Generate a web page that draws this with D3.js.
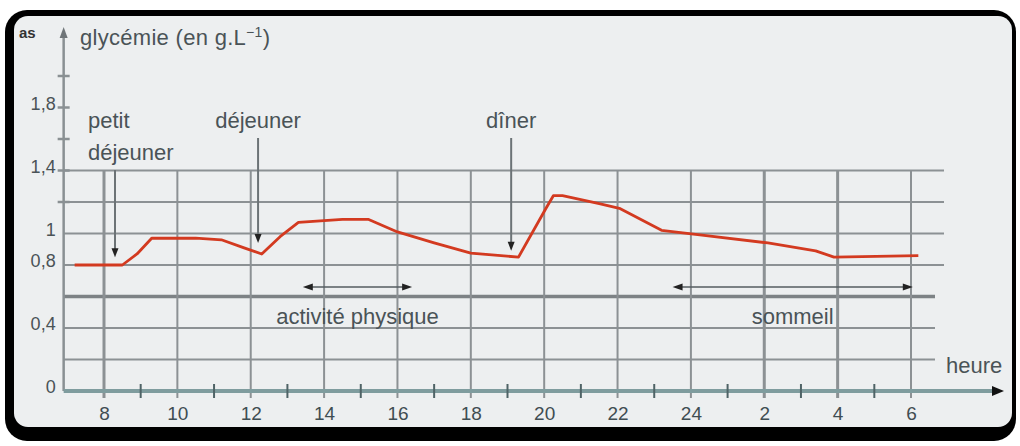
<!DOCTYPE html>
<html>
<head>
<meta charset="utf-8">
<script src="https://cdn.jsdelivr.net/npm/d3@7"></script>
<style>
  body { margin: 0; background: #fff; }
  svg text { font-family: "Liberation Sans", Arial, sans-serif; }
</style>
</head>
<body>
<div id="chart"></div>
<script>
// glycemia over one day (hours after 24 continue as 25, 26...)
var hours   = [7.2, 8.5, 8.9, 9.3, 10.5, 11.2, 11.8, 12.3, 12.8, 13.3, 14.5, 15.2, 16.0, 17.0, 18.0, 19.3, 20.05, 20.25, 20.5, 21.5, 22.05, 23.2, 24.3, 26.1, 27.4, 27.9, 30.2];
var glucose = [0.80, 0.80, 0.87, 0.97, 0.97, 0.96, 0.91, 0.87, 0.98, 1.07, 1.09, 1.09, 1.01, 0.94, 0.875, 0.85, 1.16, 1.24, 1.24, 1.19, 1.16, 1.02, 0.99, 0.94, 0.89, 0.85, 0.86];

var xTicks = [8, 10, 12, 14, 16, 18, 20, 22, 24, 26, 28, 30];
var xMinor = [9, 11, 13, 15, 17, 19, 21, 23, 25, 27, 29];
var yLabels = [0, 0.4, 0.8, 1, 1.4, 1.8];
var yGrid = [0.2, 0.4, 0.6, 0.8, 1, 1.2, 1.4];
var yAxisTicks = [1.2, 1.4, 1.6, 1.8, 2];

var meals = ["petit déjeuner", "déjeuner", "dîner"];
var mealHours = [8.3, 12.2, 19.1];
var mealValues = [0.85, 0.94, 0.89];

var periods = ["activité physique", "sommeil"];
var periodStart = [13.42, 23.5];
var periodEnd = [16.4, 30.05];

var W = 1020, H = 446;
var svg = d3.select("#chart").append("svg")
  .attr("width", W).attr("height", H);

// frame
svg.append("rect").attr("x", 5).attr("y", 10).attr("width", 1011).attr("height", 431)
  .attr("rx", 22).attr("fill", "#000");
svg.append("rect").attr("x", 14).attr("y", 16).attr("width", 998).attr("height", 411)
  .attr("rx", 14).attr("fill", "#edeff0");

var x = d3.scaleLinear().domain([8, 30]).range([104, 911]);
var y = d3.scaleLinear().domain([0, 2]).range([391, 76]);
var x0 = x(6.9);

var gridCol = "#8c9194";
var textCol = "#4a5357";

// horizontal grid
svg.selectAll(".hgrid").data(yGrid).join("line")
  .attr("x1", x0).attr("x2", function(d) { return d < 0.7 ? 935 : 944; })
  .attr("y1", function(d) { return y(d); }).attr("y2", function(d) { return y(d); })
  .attr("stroke", function(d) { return d == 0.6 ? "#7d8285" : gridCol; })
  .attr("stroke-width", function(d) { return d == 0.6 ? 3.5 : 2; });

// vertical grid
svg.selectAll(".vgrid").data(xTicks).join("line")
  .attr("x1", function(d) { return x(d); }).attr("x2", function(d) { return x(d); })
  .attr("y1", y(1.4)).attr("y2", y(0) + 7)
  .attr("stroke", gridCol)
  .attr("stroke-width", function(d) { return (d == 8 || d == 26 || d == 28) ? 3 : 2; });

// y axis
svg.append("line").attr("x1", x0).attr("x2", x0).attr("y1", 34).attr("y2", y(0))
  .attr("stroke", "#8a9093").attr("stroke-width", 2.5);
svg.append("path").attr("d", d3.line()([[x0 - 4, 38], [x0, 27], [x0 + 4, 38]]) + "Z")
  .attr("fill", "#6f7578");
svg.selectAll(".ytick").data(yAxisTicks).join("line")
  .attr("x1", x0 - 6).attr("x2", x0 + 6)
  .attr("y1", function(d) { return y(d); }).attr("y2", function(d) { return y(d); })
  .attr("stroke", "#8a9093").attr("stroke-width", 2.5);

var yAxis = svg.append("g").attr("transform", "translate(" + (x0 - 8) + ",-4)")
  .call(d3.axisLeft(y).tickValues(yLabels).tickSize(0).tickPadding(0)
    .tickFormat(function(d) { return String(d).replace(".", ","); }));
yAxis.select(".domain").remove();
yAxis.selectAll("text").attr("fill", textCol).style("font-size", "18px");

svg.append("text").attr("x", 80).attr("y", 45).attr("fill", textCol)
  .style("font-size", "22px").attr("textLength", 190)
  .html('glycémie (en g.L<tspan dy="-8" font-size="14">−1</tspan><tspan dy="8">)</tspan>');
svg.append("text").attr("x", 19).attr("y", 38).attr("fill", "#333")
  .style("font-size", "15px").style("font-weight", "bold").text("as");

// x axis
svg.append("line").attr("x1", x0).attr("x2", 994).attr("y1", y(0)).attr("y2", y(0))
  .attr("stroke", "#7f9c9e").attr("stroke-width", 4);
svg.append("path").attr("d", d3.line()([[992, y(0) - 5], [1004, y(0)], [992, y(0) + 5]]) + "Z")
  .attr("fill", "#111");
svg.selectAll(".xminor").data(xMinor).join("line")
  .attr("x1", function(d) { return x(d); }).attr("x2", function(d) { return x(d); })
  .attr("y1", y(0) - 7).attr("y2", y(0) + 7)
  .attr("stroke", "#4f6366").attr("stroke-width", 2);

var xAxis = svg.append("g").attr("transform", "translate(0," + (y(0) + 12) + ")")
  .call(d3.axisBottom(x).tickValues(xTicks).tickSize(0).tickPadding(4)
    .tickFormat(function(d) { return d > 24 ? d - 24 : d; }));
xAxis.select(".domain").remove();
xAxis.selectAll("text").attr("fill", "#3f4d52").style("font-size", "19px");

svg.append("text").attr("x", 946).attr("y", 373).attr("fill", textCol)
  .style("font-size", "22px").text("heure");

// glycemia curve
var pts = hours.map(function(h, i) { return [x(h), y(glucose[i])]; });
svg.append("path").attr("d", d3.line()(pts))
  .attr("fill", "none").attr("stroke", "#d33a20").attr("stroke-width", 2.8)
  .attr("stroke-linejoin", "round");

// meal arrows
var mealTop = [170, 138, 138];
meals.forEach(function(m, i) {
  var mx = x(mealHours[i]), my = y(mealValues[i]);
  svg.append("line").attr("x1", mx).attr("x2", mx).attr("y1", mealTop[i]).attr("y2", my - 6)
    .attr("stroke", "#6c7376").attr("stroke-width", 2);
  svg.append("path").attr("d", d3.line()([[mx - 3.5, my - 9], [mx, my], [mx + 3.5, my - 9]]) + "Z")
    .attr("fill", "#222");
  if (i == 0) {
    svg.append("text").attr("x", mx - 27).attr("y", 128).attr("fill", textCol)
      .style("font-size", "22px").text("petit");
    svg.append("text").attr("x", mx - 27).attr("y", 160).attr("fill", textCol)
      .style("font-size", "22px").text("déjeuner");
  } else {
    svg.append("text").attr("x", mx).attr("y", 128).attr("text-anchor", "middle")
      .attr("fill", textCol).style("font-size", "22px").text(m);
  }
});

// period double arrows
periods.forEach(function(p, i) {
  var a = x(periodStart[i]), b = x(periodEnd[i]), py = 287;
  svg.append("line").attr("x1", a + 4).attr("x2", b - 4).attr("y1", py).attr("y2", py)
    .attr("stroke", "#555c60").attr("stroke-width", 1.5);
  svg.append("path").attr("d", d3.line()([[a, py], [a + 10, py - 3.5], [a + 10, py + 3.5]]) + "Z")
    .attr("fill", "#222");
  svg.append("path").attr("d", d3.line()([[b, py], [b - 10, py - 3.5], [b - 10, py + 3.5]]) + "Z")
    .attr("fill", "#222");
  svg.append("text").attr("x", (a + b) / 2).attr("y", 324)
    .attr("text-anchor", "middle").attr("fill", textCol).style("font-size", "22px")
    .text(p);
});
</script>
</body>
</html>
